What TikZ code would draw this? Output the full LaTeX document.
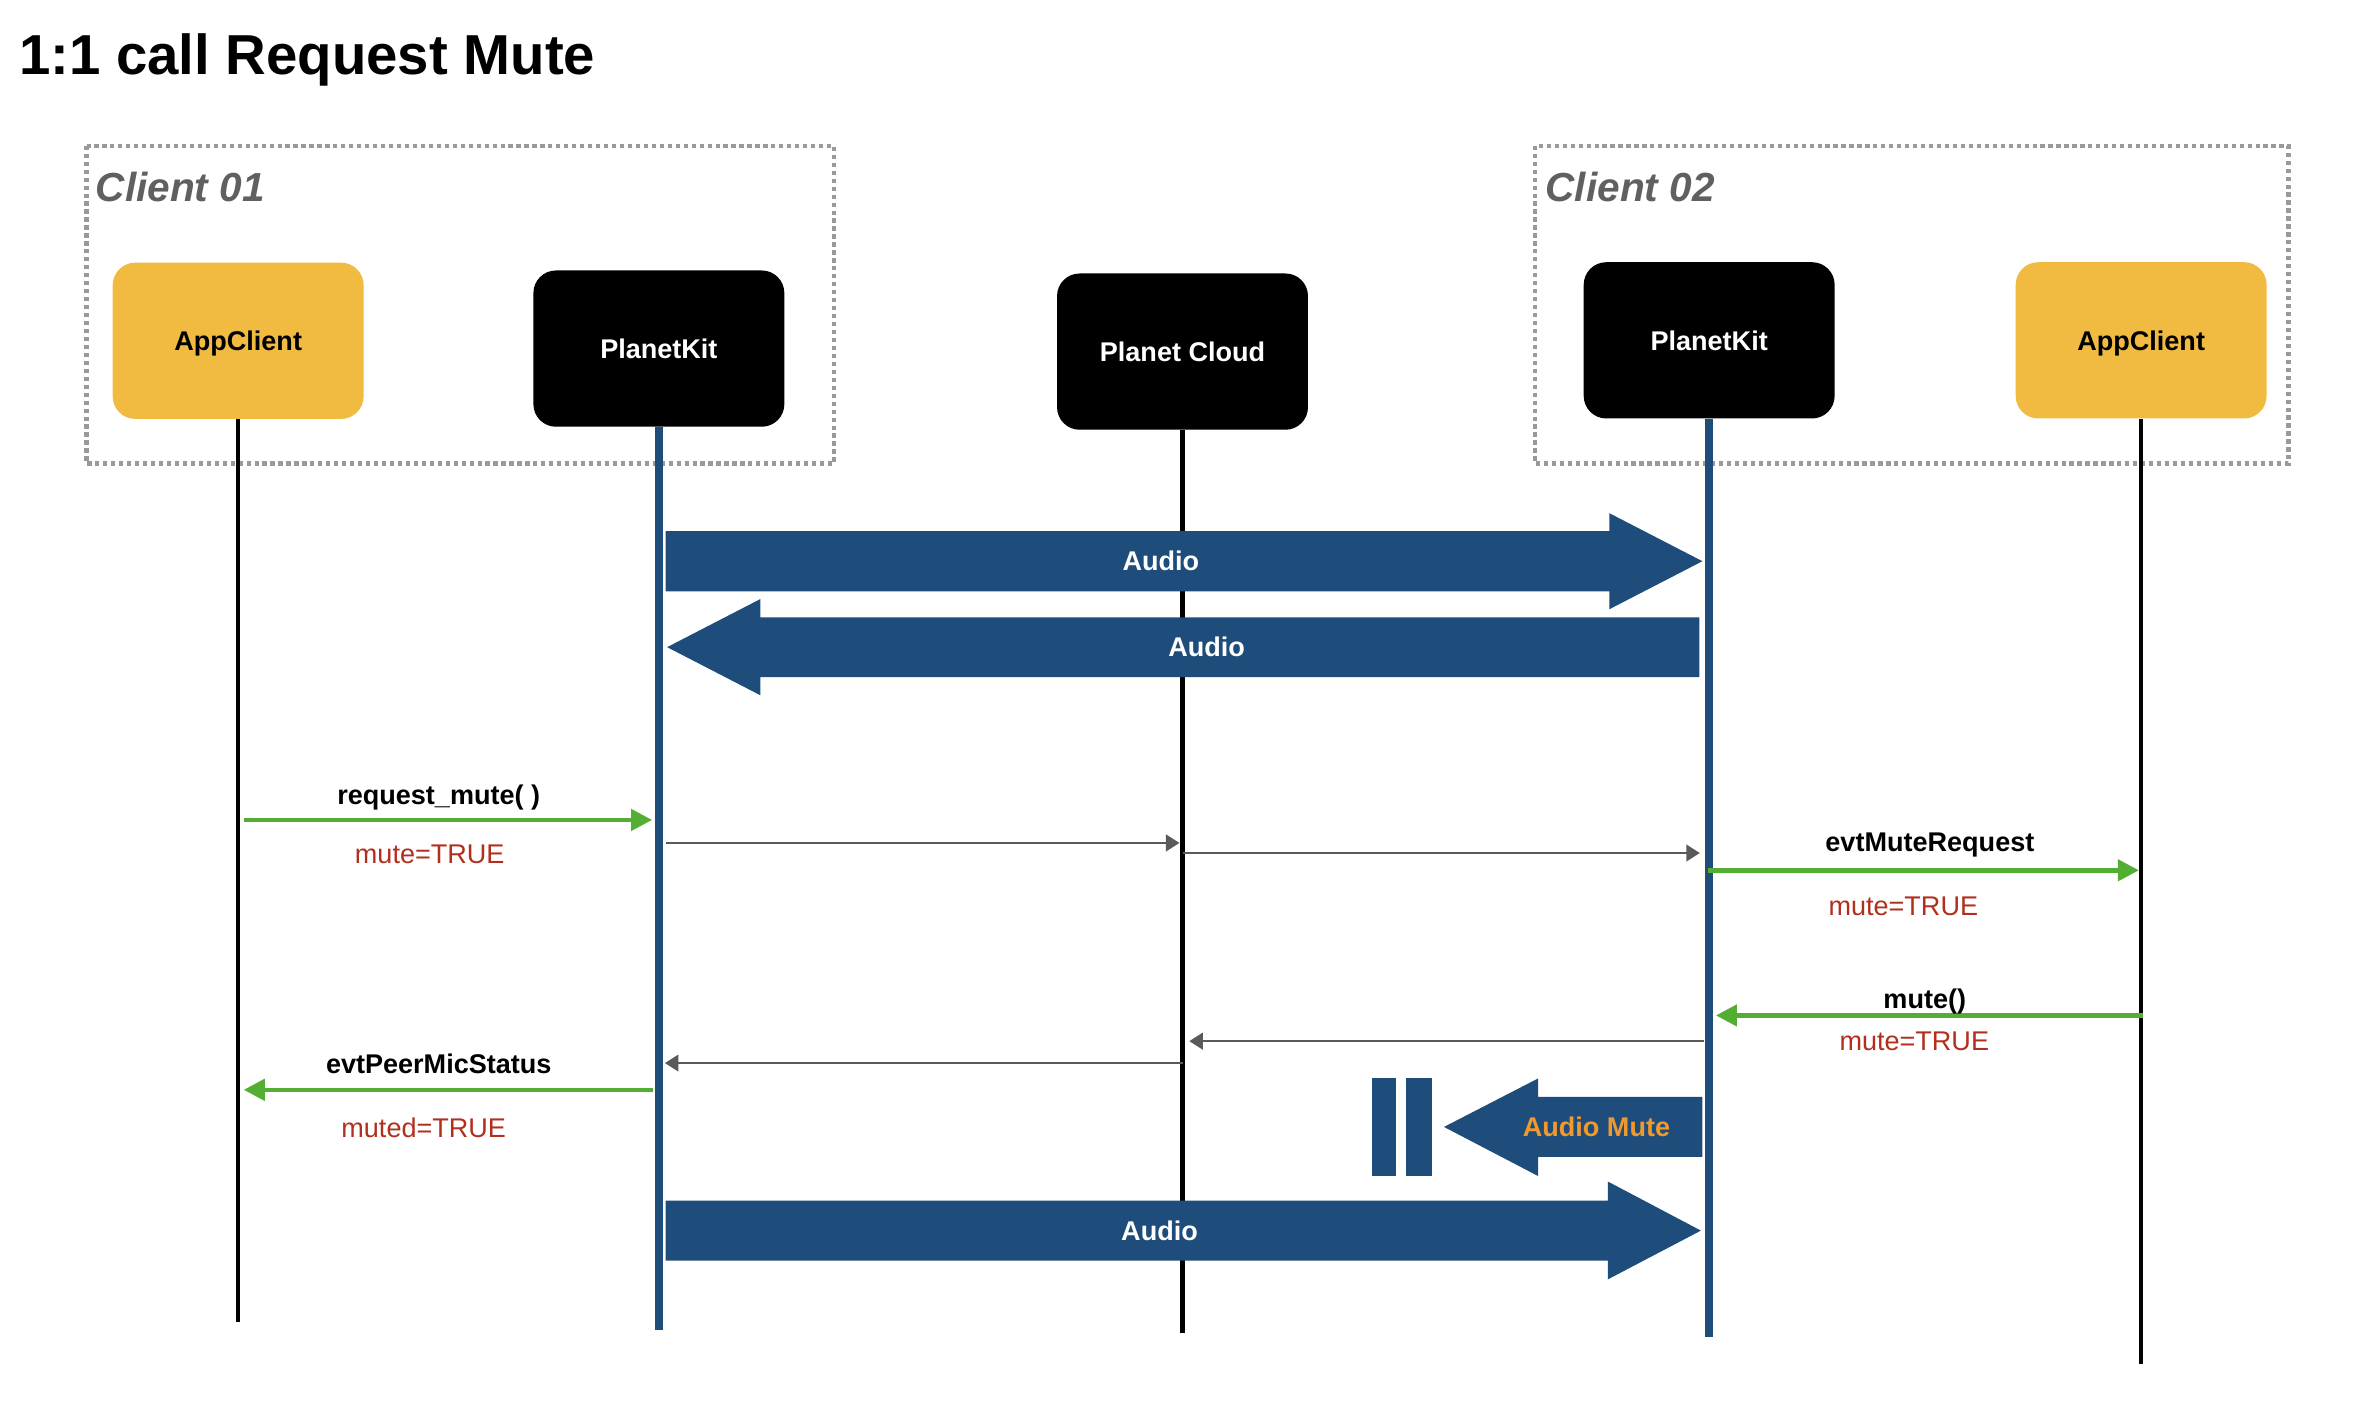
\documentclass[tikz,border=0pt]{standalone}
\usepackage{fontspec}
\setmainfont{Liberation Sans}
\usetikzlibrary{arrows.meta,calc}
\definecolor{appyellow}{HTML}{F1BB41}
\definecolor{kitblue}{HTML}{1E4D7B}
\definecolor{msggreen}{HTML}{54AE34}
\definecolor{msggray}{HTML}{5A5A5A}
\definecolor{paramred}{HTML}{B22F1E}
\definecolor{muteorange}{HTML}{F2992E}
\definecolor{boxgray}{HTML}{999999}
\definecolor{labelgray}{HTML}{606060}
\tikzset{
  hdr/.style={rounded corners=15pt, minimum width=167pt, minimum height=104pt, inner sep=0pt, text depth=0pt, font=\bfseries\fontsize{18}{22}\selectfont},
  app/.style={hdr, fill=appyellow, text=black},
  kit/.style={hdr, fill=black, text=white},
  lifeblack/.style={line width=3pt, black},
  lifeblue/.style={line width=5.5pt, kitblue},
  greenmsg/.style={line width=3pt, msggreen, -{Triangle[length=14pt,width=14pt]}},
  graymsg/.style={line width=1.5pt, msggray, -{Triangle[length=9pt,width=11pt]}},
  lbl/.style={font=\bfseries\fontsize{18}{22}\selectfont, anchor=base, inner sep=0pt},
  param/.style={font=\fontsize{18}{22}\selectfont, text=paramred, anchor=base, inner sep=0pt},
  audio/.style={fill=kitblue},
  audiotxt/.style={font=\bfseries\fontsize{18}{22}\selectfont, text=white, inner sep=0pt},
  clientbox/.style={draw=boxgray, line width=2.8pt, dash pattern=on 2.8pt off 2.5pt},
  clientlbl/.style={font=\bfseries\itshape\fontsize{27}{32}\selectfont, text=labelgray, anchor=base west, inner sep=0pt},
}
\begin{document}
\begin{tikzpicture}[x=1pt,y=-1pt]
\useasboundingbox (0,0) rectangle (1568,932);
\fill[white] (0,0) rectangle (1568,932);

% title
\node[anchor=base west, inner sep=0pt, font=\bfseries\fontsize{37.5}{42}\selectfont] (title) at (12.5,49.3) {1:1 call Request Mute};

% client boxes
\draw[clientbox] (57.6,97) rectangle (555,308.5);
\node[clientlbl] (c1lbl) at (63.5,134.3) {Client 01};
\draw[clientbox] (1021.7,97) rectangle (1523,308.5);
\node[clientlbl] (c2lbl) at (1028.5,134.3) {Client 02};

% headers
\node[app] (ac1) at (158.5,226.8) {AppClient};
\node[kit] (pk1) at (438.5,232) {PlanetKit};
\node[kit] (pc)  at (787,234) {Planet Cloud};
\node[kit] (pk2) at (1137.5,226.5) {PlanetKit};
\node[app] (ac2) at (1425,226.5) {AppClient};

% lifeline ends
\coordinate (ac1end) at (158.5,880);
\coordinate (pk1end) at (438.5,885);
\coordinate (pcend)  at (787,887);
\coordinate (pk2end) at (1137.5,890);
\coordinate (ac2end) at (1425,908);

\draw[lifeblack] (ac1.south) -- (ac1end);
\draw[lifeblue]  (pk1.south) -- (pk1end);
\draw[lifeblack] (pc.south)  -- (pcend);
\draw[lifeblue]  (pk2.south) -- (pk2end);
\draw[lifeblack] (ac2.south) -- (ac2end);

% big audio arrows
\fill[audio] (443,353.5) -- (1071,353.5) -- (1071,341.5) -- (1133,373.5) -- (1071,405.5) -- (1071,393.5) -- (443,393.5) -- cycle;
\node[audiotxt] (a1) at (772.6,373.5) {Audio};

\fill[audio] (1131,410.8) -- (506,410.8) -- (506,398.7) -- (444,430.7) -- (506,462.7) -- (506,450.7) -- (1131,450.7) -- cycle;
\node[audiotxt] (a2) at (803,430.7) {Audio};

\fill[audio] (1133,730) -- (1023.7,730) -- (1023.7,717.7) -- (961,750) -- (1023.7,782.7) -- (1023.7,770) -- (1133,770) -- cycle;
\node[audiotxt, text=muteorange] (amute) at (1062.5,750) {Audio Mute};

\fill[audio] (912.8,717.7) rectangle (929.4,782.7);
\fill[audio] (936,717.7) rectangle (952.7,782.7);

\fill[audio] (443,799) -- (1070,799) -- (1070,786.3) -- (1132,819) -- (1070,851.5) -- (1070,839) -- (443,839) -- cycle;
\node[audiotxt] (a3) at (771.7,819) {Audio};

% request_mute
\draw[greenmsg] ($(ac1.south |- 0,545.7)+(4,0)$) -- ($(pk1.south |- 0,545.7)+(-4.5,0)$);
\node[lbl] (l1) at (292,535.5) {request\_mute( )};
\node[param] (p1) at (286,574.8) {mute=TRUE};

\draw[graymsg] ($(pk1.south |- 0,561)+(4.5,0)$) -- ($(pc.south |- 0,561)+(-2,0)$);
\draw[graymsg] ($(pc.south |- 0,567.7)+(0,0)$) -- ($(pk2.south |- 0,567.7)+(-6.2,0)$);

% evtMuteRequest
\draw[greenmsg] ($(pk2.south |- 0,579.2)+(-1,0)$) -- ($(ac2.south |- 0,579.2)+(-1.5,0)$);
\node[lbl] (l2) at (1284.4,566.4) {evtMuteRequest};
\node[param] (p2) at (1266.7,609.2) {mute=TRUE};

% mute()
\draw[greenmsg] ($(ac2.south |- 0,675.8)+(1.5,0)$) -- ($(pk2.south |- 0,675.8)+(4.5,0)$);
\node[lbl] (l3) at (1281,671.3) {mute()};
\node[param] (p3) at (1274,699) {mute=TRUE};

\draw[graymsg] ($(pk2.south |- 0,692.9)+(-3.5,0)$) -- ($(pc.south |- 0,692.9)+(4.5,0)$);
\draw[graymsg] ($(pc.south |- 0,707.5)+(0,0)$) -- ($(pk1.south |- 0,707.5)+(4,0)$);

% evtPeerMicStatus
\draw[greenmsg] ($(pk1.south |- 0,725.3)+(-4,0)$) -- ($(ac1.south |- 0,725.3)+(3.7,0)$);
\node[lbl] (l4) at (292,714.2) {evtPeerMicStatus};
\node[param] (p4) at (282,756.8) {muted=TRUE};
\end{tikzpicture}
\end{document}
